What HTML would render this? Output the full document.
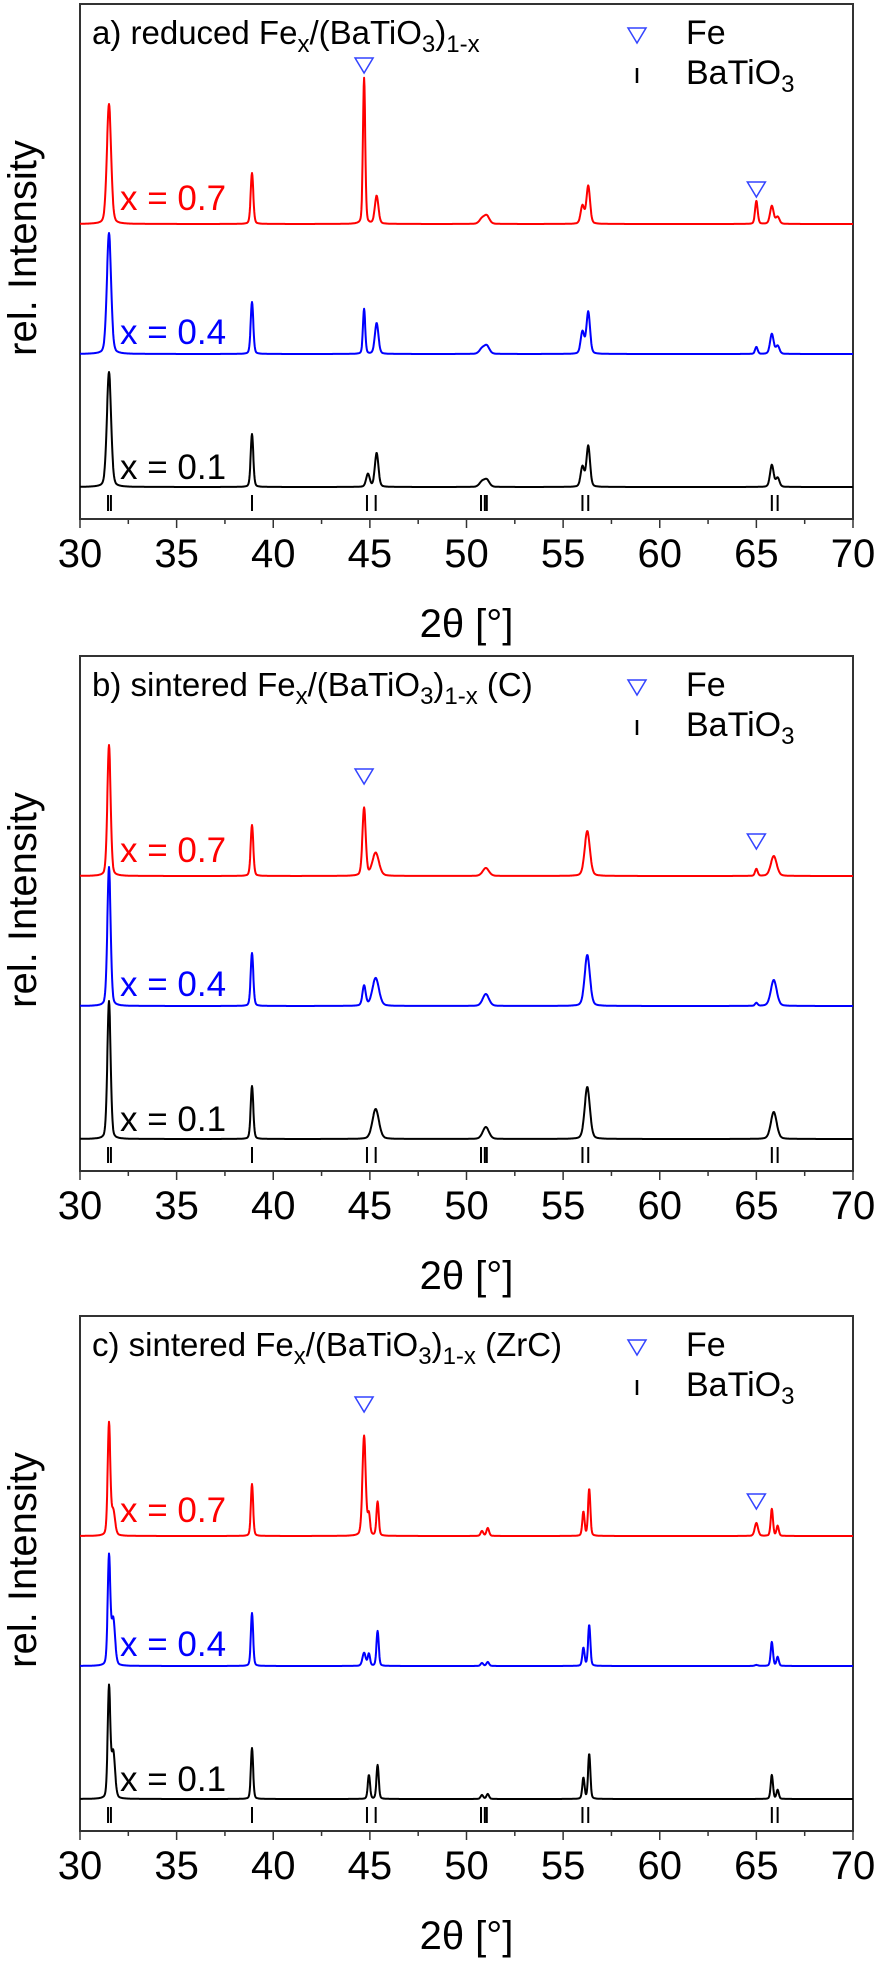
<!DOCTYPE html>
<html><head><meta charset="utf-8"><style>
html,body{margin:0;padding:0;background:#fff}
svg{display:block;font-family:"Liberation Sans",Arial,sans-serif}
</style></head><body>
<svg id="fig" width="877" height="1961" viewBox="0 0 877 1961" xmlns="http://www.w3.org/2000/svg"></svg>
<script>
// ---- data ----
const xTicks = [30,35,40,45,50,55,60,65,70];
const batioSticks = [31.45,31.6,38.9,44.85,45.3,50.75,50.95,51.05,56.0,56.3,65.8,66.1];
const feMarks = [44.7,65.0];
const seriesLabels = ["x = 0.7","x = 0.4","x = 0.1"];

const aPos = [31.5,38.9,44.7,44.9,45.35,50.8,51.05,56.0,56.3,65.0,65.8,66.1];
const aW   = [0.13,0.08,0.07,0.11,0.11,0.16,0.16,0.11,0.11,0.08,0.11,0.11];
const aRed   = [120,51,146,0,28,5,8,18,38,23,18,7];
const aBlue  = [121,52,45,0,31,5,8,22,42,7,20,8];
const aBlack = [115,53,0,13,34,5,7,20,41,0,22,9];

const bPos = [31.5,38.9,44.7,45.3,51.0,56.25,65.0,65.9];
const bW   = [0.1,0.08,0.1,0.2,0.19,0.16,0.08,0.18];
const bRed   = [131,51,68,23,8,45,7,20];
const bBlue  = [139,53,20,28,12,51,3,26];
const bBlack = [138,53,0,30,12,52,0,27];

const cPos = [31.5,31.72,38.9,44.7,44.95,45.4,50.8,51.1,56.05,56.35,65.0,65.8,66.1];
const cW   = [0.08,0.11,0.07,0.1,0.07,0.07,0.08,0.08,0.07,0.07,0.1,0.07,0.07];
const cRed   = [112,24,52,100,20,34,5,8,24,47,13,27,10];
const cBlue  = [108,46,53,13,12,35,3,4,18,41,1,24,9];
const cBlack = [110,46,51,0,24,34,4,5,21,45,0,24,9];

const panels = [
 {id:"a", top:4, title:["a) reduced Fe","x","/(BaTiO","3",")","1-x",""], pos:aPos, w:aW, series:[aRed,aBlue,aBlack], fe:[[44.7,61],[65.0,185]]},
 {id:"b", top:656, title:["b) sintered Fe","x","/(BaTiO","3",")","1-x"," (C)"], pos:bPos, w:bW, series:[bRed,bBlue,bBlack], fe:[[44.7,120],[65.0,185]]},
 {id:"c", top:1316, title:["c) sintered Fe","x","/(BaTiO","3",")","1-x"," (ZrC)"], pos:cPos, w:cW, series:[cRed,cBlue,cBlack], fe:[[44.7,88],[65.0,185]]}
];
const colors = ["#ff0000","#0000ff","#000000"];
const baseOff = [220,350,483];
const labelOff = [206,340,475];

// ---- drawing ----
const NS = "http://www.w3.org/2000/svg";
const svg = document.getElementById("fig");
const L = 80, R = 853, H = 515;
const xs = v => L + (v - 30) / 40 * (R - L);
function mk(tag, attrs, parent){
  const e = document.createElementNS(NS, tag);
  for (const k in attrs) e.setAttribute(k, attrs[k]);
  (parent || svg).appendChild(e);
  return e;
}
function prof(x, pos, w, h){
  let s = 0;
  for (let i = 0; i < pos.length; i++){
    if (!h[i]) continue;
    const d = (x - pos[i]) / w[i];
    s += h[i] * (0.75 * Math.exp(-0.693 * d * d) + 0.25 / (1 + d * d));
  }
  return s;
}
panels.forEach(p => {
  const g = mk("g", {});
  
  
  const T = p.top, axisY = T + H;
  const frame = mk("rect", {x:L, y:T, width:R-L, height:H, fill:"none", stroke:"#333", "stroke-width":2}, g);
  
  
  for (let v = 30; v <= 70; v += 2.5){
    const major = (v % 5 === 0);
    const t = mk("line", {x1:xs(v), x2:xs(v), y1:axisY, y2:axisY + (major ? 9 : 5), stroke:"#333", "stroke-width":1.5}, g);
    
    
  }
  xTicks.forEach(v => {
    const t = mk("text", {x:xs(v), y:axisY+48, "text-anchor":"middle", "font-size":40, fill:"#000"}, g);
    t.textContent = v;
    
    
  });
  const xt = mk("text", {x:(L+R)/2, y:axisY+118, "text-anchor":"middle", "font-size":40}, g);
  xt.textContent = "2θ [°]";
  
  
  const yt = mk("text", {x:0, y:0, "text-anchor":"middle", "font-size":40, transform:`translate(36,${T+244}) rotate(-90)`}, g);
  yt.textContent = "rel. Intensity";
  
  
  const tt = mk("text", {x:92, y:T+40, "font-size":33}, g);
  
  
  p.title.forEach((s, i) => {
    if (!s) return;
    const sub = (i % 2 === 1);
    const ts = mk("tspan", sub ? {"font-size":24, dy:8} : {dy: i>0 ? -8 : 0}, tt);
    ts.textContent = s;
  });
  const lg = mk("g", {}, g);
  
  
  mk("polygon", {points:`${628},${T+24} ${646},${T+24} ${637},${T+39}`, fill:"none", stroke:"#3344ff", "stroke-width":1.5}, lg);
  const lf = mk("text", {x:686, y:T+40, "font-size":34}, lg); lf.textContent = "Fe";
  mk("line", {x1:637, x2:637, y1:T+64, y2:T+79, stroke:"#000", "stroke-width":2.5}, lg);
  const lb = mk("text", {x:686, y:T+80, "font-size":34}, lg);
  lb.textContent = "BaTiO";
  const l3 = mk("tspan", {"font-size":24, dy:8}, lb); l3.textContent = "3";
  p.series.forEach((h, si) => {
    const base = T + baseOff[si];
    let d = "";
    for (let x = 30; x <= 70.0001; x += 0.02){
      const y = base - prof(x, p.pos, p.w, h);
      d += (d ? "L" : "M") + xs(x).toFixed(1) + "," + y.toFixed(1);
    }
    const path = mk("path", {d, fill:"none", stroke:colors[si], "stroke-width":2, "stroke-linejoin":"round"}, g);
    
    
    const lab = mk("text", {x:120, y:T+labelOff[si], "font-size":35, fill:colors[si]}, g);
    lab.textContent = seriesLabels[si];
    
    
  });
  batioSticks.forEach(v => {
    const s = mk("line", {x1:xs(v), x2:xs(v), y1:T+491, y2:T+507, stroke:"#000", "stroke-width":2}, g);
    
    
  });
  p.fe.forEach(([v, oy]) => {
    const cx = xs(v), cy = T + oy;
    const m = mk("polygon", {points:`${cx-9},${cy-7} ${cx+9},${cy-7} ${cx},${cy+8}`, fill:"none", stroke:"#3344ff", "stroke-width":1.5}, g);
    
    
  });
});
</script>
</body></html>
